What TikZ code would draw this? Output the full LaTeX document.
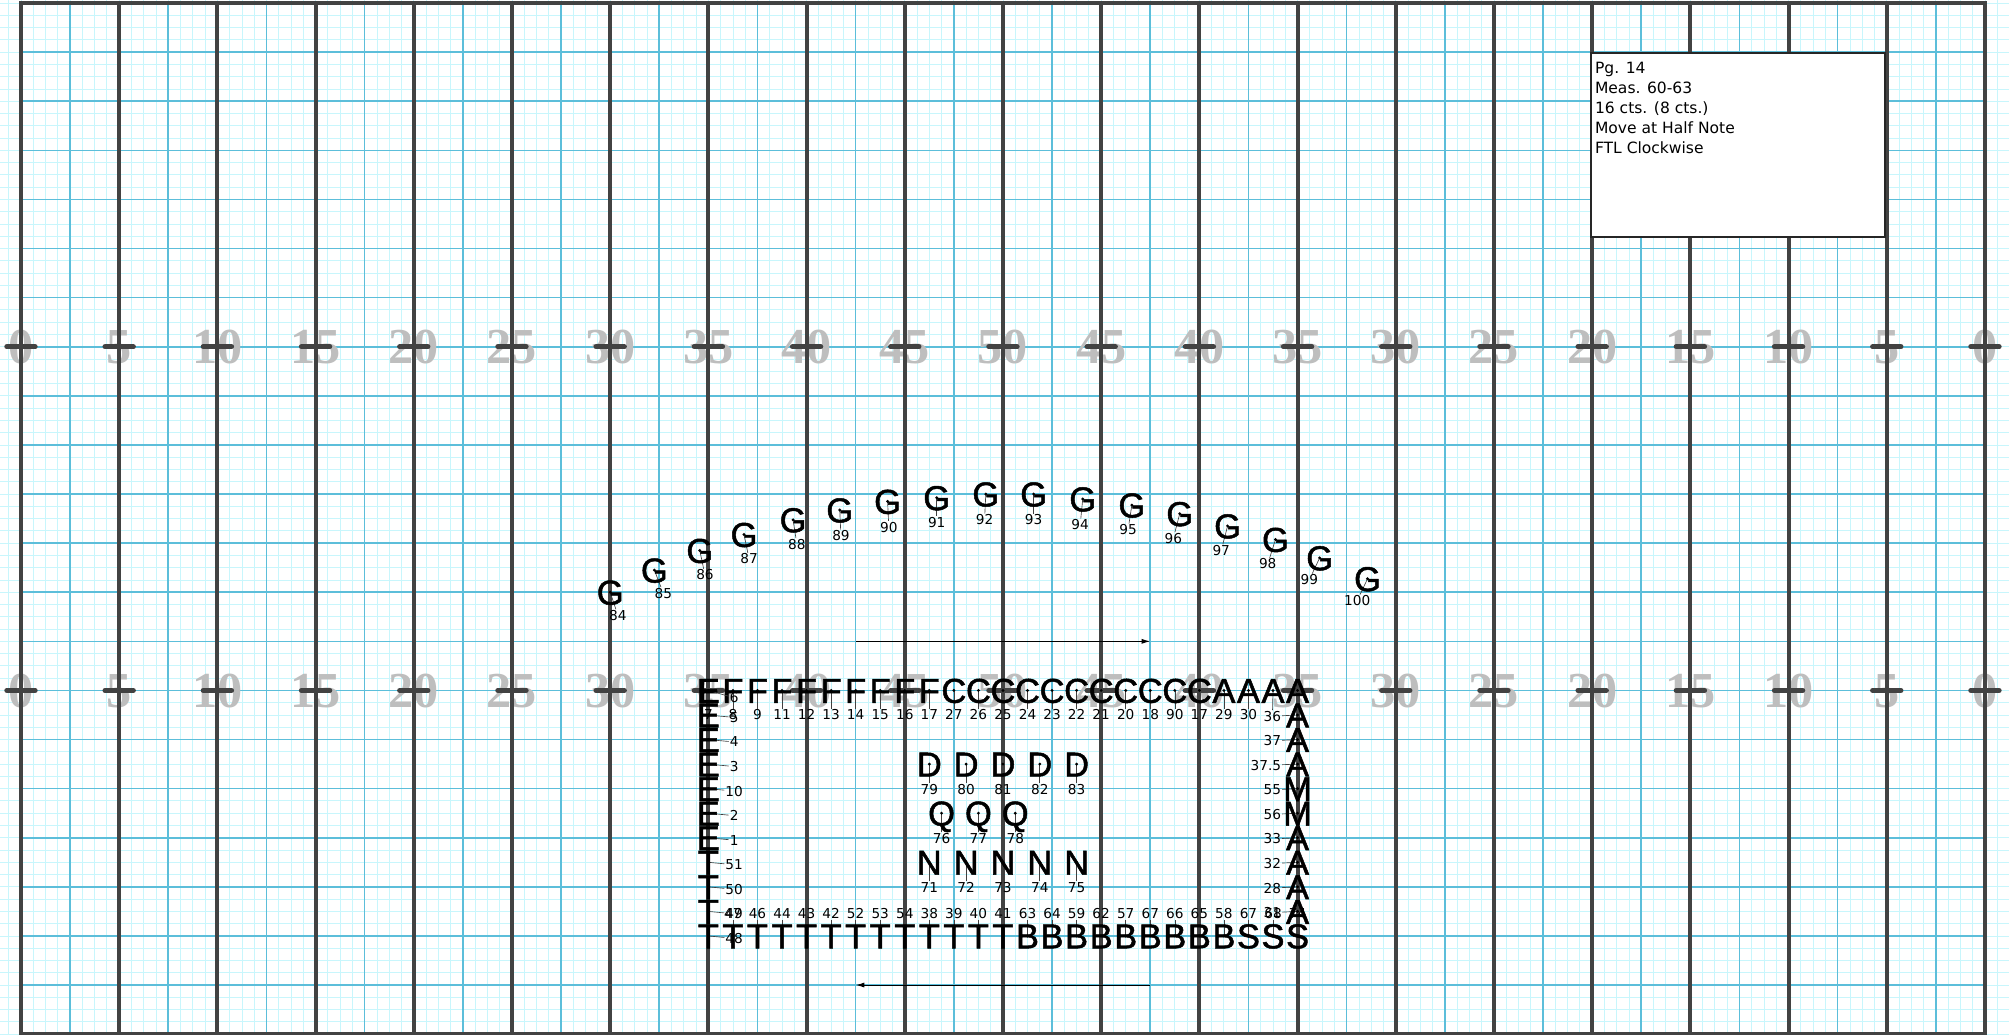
\documentclass[tikz,border=0pt]{standalone}
\usepackage{fontspec}
\usepackage{tikz}
\usetikzlibrary{arrows.meta,positioning,calc}
\newfontfamily\symfont[FakeBold=1.4]{Liberation Sans}
\newfontfamily\numfont{DejaVu Sans}
\newfontfamily\yardfont{Liberation Serif}
\definecolor{fineblue}{RGB}{200,246,252}
\definecolor{gridblue}{RGB}{92,190,218}
\definecolor{yard}{RGB}{66,66,66}
\definecolor{yardnum}{RGB}{190,190,190}

\begin{document}
\begin{tikzpicture}[x=0.3cm,y=0.3cm,>=Latex]
\tikzset{fineline/.style={draw=fineblue,line width=0.6pt},
  gridline/.style={draw=gridblue,line width=1.1pt},
  yardline/.style={draw=yard,line width=2.8pt},
  hash/.style={draw=yard,line width=3.6pt,line cap=round},
  yardno/.style={font=\yardfont\bfseries\fontsize{35}{35}\selectfont,text=yardnum,inner sep=0pt,text height=23.5pt,text depth=0pt},
  sym/.style={font=\symfont\fontsize{24}{24}\selectfont,text=black,inner sep=0pt,text height=17.2pt,text depth=0pt},
  num/.style={font=\numfont\fontsize{9.5}{9.5}\selectfont,inner sep=0.6pt,text height=6.9pt,text depth=0pt},
  tie/.style={draw=black!75,line width=0.45pt},
  pdot/.style={fill=black},
  movearr/.style={-{Latex[length=6pt,width=3.5pt]},draw=black,line width=0.7pt},
  notebox/.style={draw=black!85,line width=1.3pt,fill=white,inner sep=0pt,minimum width=7.2cm,minimum height=4.5cm},
  notetext/.style={font=\numfont\fontsize{10.8}{13.9}\selectfont,align=left,inner sep=0pt}}
\fill[white] (-1.71,-0.05) rectangle (161.96,84.25);
\useasboundingbox (-1.71,-0.05) rectangle (161.96,84.25);
% step grid
\foreach \i in {-1,...,161} \draw[fineline] (\i,-0.05) -- (\i,84.25);
\foreach \j in {0,...,84} \draw[fineline] (-1.71,\j) -- (161.96,\j);
\foreach \i in {4,12,...,156} \draw[gridline] (\i,0) -- (\i,84);
\foreach \j in {4,8,...,80} \draw[gridline] (0,\j) -- (160,\j);
% yard numbers
\foreach \k in {0,...,20}{
  \pgfmathtruncatemacro{\yd}{5*min(\k,20-\k)}
  \node[yardno] (ya\k) at (8*\k,28) {\yd};
  \node[yardno] (yb\k) at (8*\k,56) {\yd};
}
% yard lines and hashes
\foreach \i in {8,16,...,152} \draw[yardline] (\i,0) -- (\i,84);
\draw[yardline] (0,0) rectangle (160,84);
\foreach \k in {0,...,20}{
  \draw[hash] (8*\k-1.15,28) -- (8*\k+1.15,28);
  \draw[hash] (8*\k-1.15,56) -- (8*\k+1.15,56);
}
% page note
\node[notebox,anchor=north west] (note) at (127.8,80) {};
\node[notetext,anchor=north west] (notetxt) at ($(note.north west)+(0.41,-0.77)$) {Pg. 14\\Meas. 60-63\\16 cts. (8 cts.)\\Move at Half Note\\FTL Clockwise};
% travel arrows
\coordinate (fwdA) at (68,32); \coordinate (fwdB) at (92,32);
\draw[movearr] (fwdA) -- (fwdB);
\coordinate (backA) at (92,4); \coordinate (backB) at (68,4);
\draw[movearr] (backA) -- (backB);
% arc of G
\foreach \x/\y/\lab/\dx/\dy in {48.0/36.0/84/0.63/-1.88,51.6/37.8/85/0.73/-1.88,55.3/39.4/86/0.42/-1.99,58.9/40.7/87/0.42/-1.99,62.9/41.9/88/0.31/-1.99,66.7/42.7/89/0.1/-2.09,70.6/43.4/90/0.1/-2.09,74.6/43.7/91/0/-2.0,78.6/44.0/92/-0.1/-2.09,82.5/44.0/93/0/-2.09,86.5/43.6/94/-0.21/-2.09,90.5/43.1/95/-0.31/-2.0,94.4/42.4/96/-0.52/-2.0,98.3/41.4/97/-0.52/-2.0,102.2/40.3/98/-0.63/-2.0,105.8/38.8/99/-0.84/-1.78,109.7/37.1/100/-0.84/-1.78}{
  \coordinate (g\lab) at (\x,\y);
  \node[num] (g\lab-n) at ($(g\lab)+(\dx,\dy)$) {\lab};
  \draw[tie] (g\lab) -- (g\lab-n);
  \node[sym] (g\lab-s) at (g\lab) {G};
  \fill[pdot] (g\lab) circle (1.1pt);
}
% block: top row
\foreach \ltr/\x/\lab in {F/56/7,F/58/8,F/60/9,F/62/11,F/64/12,F/66/13,F/68/14,F/70/15,F/72/16,F/74/17,C/76/27,C/78/26,C/80/25,C/82/24,C/84/23,C/86/22,C/88/21,C/90/20,C/92/18,C/94/90,C/96/17,A/98/29,A/100/30}{
  \coordinate (t\x) at (\x,28);
  \node[num] (t\x-n) at (\x,26) {\lab};
  \draw[tie] (t\x) -- (t\x-n);
  \node[sym] (t\x-s) at (t\x) {\ltr};
  \fill[pdot] (t\x) circle (1.1pt);
}
% left side
\foreach \ltr/\y/\lab/\ly in {E/28/6/27.4,E/26/5/25.8,E/24/4/23.8,E/22/3/21.8,E/20/10/19.8,E/18/2/17.8,E/16/1/15.8,T/14/51/13.8,T/12/50/11.8,T/10/49/9.8,T/8/48/7.8}{
  \coordinate (l\y) at (56,\y);
  \node[num] (l\y-n) at (58.1,\ly) {\lab};
  \draw[tie] (l\y) -- (l\y-n);
  \node[sym] (l\y-s) at (l\y) {\ltr};
  \fill[pdot] (l\y) circle (1.1pt);
}
% right side
\foreach \ltr/\y/\lab in {A/26/36,A/24/37,A/22/37.5,M/20/55,M/18/56,A/16/33,A/14/32,A/12/28,A/10/31}{
  \coordinate (r\y) at (104,\y);
  \node[num,anchor=east] (r\y-n) at (102.75,\y-0.1) {\lab};
  \draw[tie] (r\y) -- (r\y-n);
  \node[sym] (r\y-s) at (r\y) {\ltr};
  \fill[pdot] (r\y) circle (1.1pt);
}
\coordinate (t102) at (102,28);
\draw[tie] (t102) -- (r26-n);
\node[sym] (t102-s) at (t102) {A};
\fill[pdot] (t102) circle (1.1pt);
\coordinate (t104) at (104,28);
\node[sym] (t104-s) at (t104) {A};
\fill[pdot] (t104) circle (1.1pt);
% bottom row
\foreach \ltr/\x/\lab in {T/58/47,T/60/46,T/62/44,T/64/43,T/66/42,T/68/52,T/70/53,T/72/54,T/74/38,T/76/39,T/78/40,T/80/41,B/82/63,B/84/64,B/86/59,B/88/62,B/90/57,B/92/67,B/94/66,B/96/65,B/98/58,S/100/67,S/102/68,S/104/74}{
  \coordinate (b\x) at (\x,8);
  \node[num] (b\x-n) at (\x,9.8) {\lab};
  \draw[tie] (b\x) -- (b\x-n);
  \node[sym] (b\x-s) at (b\x) {\ltr};
  \fill[pdot] (b\x) circle (1.1pt);
}
% inner rows
\foreach \ltr/\x/\y/\lab in {D/74/22/79,D/77/22/80,D/80/22/81,D/83/22/82,D/86/22/83,Q/75/18/76,Q/78/18/77,Q/81/18/78,N/74/14/71,N/77/14/72,N/80/14/73,N/83/14/74,N/86/14/75}{
  \coordinate (m\lab) at (\x,\y);
  \node[num] (m\lab-n) at (\x,\y-2.05) {\lab};
  \draw[tie] (m\lab) -- (m\lab-n);
  \node[sym] (m\lab-s) at (m\lab) {\ltr};
  \fill[pdot] (m\lab) circle (1.1pt);
}
\end{tikzpicture}
\end{document}
